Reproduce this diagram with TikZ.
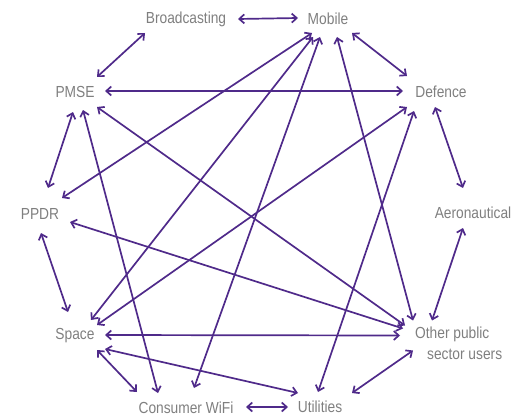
\documentclass[tikz,border=0pt]{standalone}
\usepackage{fontspec}
\setmainfont{Liberation Sans}[FakeStretch=0.86]
\usetikzlibrary{arrows.meta}
\definecolor{arrpurple}{HTML}{4F2A8A}
\definecolor{labgrey}{HTML}{7F7F7F}
\tikzset{
  lab/.style={text=labgrey, font=\fontsize{16}{21}\selectfont, inner sep=0pt},
  arr/.style={draw=arrpurple, line width=1.7pt, {Straight Barb[length=5pt,width=9pt]}-{Straight Barb[length=5pt,width=9pt]}}
}
\begin{document}
\begin{tikzpicture}[x=1pt,y=-1pt]
\useasboundingbox (0,0) rectangle (521,417);
\node[lab] (bro) at (186,19) {Broadcasting};
\node[lab] (mob) at (328,19) {Mobile};
\node[lab] (pmse) at (75,92) {PMSE};
\node[lab] (def) at (441,92) {Defence};
\node[lab] (ppdr) at (40,214) {PPDR};
\node[lab] (aero) at (473,213) {Aeronautical};
\node[lab] (space) at (75,336) {Space};
\node[lab, align=left, anchor=west] (other) at (415,343.5) {Other public\\\hspace*{12pt}sector users};
\node[lab] (wifi) at (186,408) {Consumer WiFi};
\node[lab] (util) at (320,407) {Utilities};
\coordinate (oc) at ([xshift=45pt]other.west);

\draw[arr] ([shift={(52,0)}]bro.center) -- ([shift={(-30,-1)}]mob.center);
\draw[arr] ([shift={(-41,14)}]bro.center) -- ([shift={(22,-15)}]pmse.center);
\draw[arr] ([shift={(24,14)}]mob.center) -- ([shift={(-34,-16)}]def.center);
\draw[arr] ([shift={(30,-1)}]pmse.center) -- ([shift={(-38,-1)}]def.center);
\draw[arr] ([shift={(-2,20)}]pmse.center) -- ([shift={(8,-26)}]ppdr.center);
\draw[arr] ([shift={(-6,15)}]def.center) -- ([shift={(-10,-25)}]aero.center);
\draw[arr] ([shift={(1,19)}]ppdr.center) -- ([shift={(-7,-24)}]space.center);
\draw[arr] ([shift={(-10,15)}]aero.center) -- ([shift={(-28,-23)}]oc);
\draw[arr] ([shift={(22,14)}]space.center) -- ([shift={(-49,-16)}]wifi.center);
\draw[arr] ([shift={(60,-1)}]wifi.center) -- ([shift={(-32,0)}]util.center);
\draw[arr] ([shift={(32,-14)}]util.center) -- ([shift={(-47,7)}]oc);
\draw[arr] ([shift={(30,-1)}]space.center) -- ([shift={(-60,-8)}]oc);
\draw[arr] ([shift={(30,13)}]space.center) -- ([shift={(-22,-14)}]util.center);
\draw[arr] ([shift={(-16,14)}]mob.center) -- ([shift={(22,-16)}]ppdr.center);
\draw[arr] ([shift={(-15,18)}]mob.center) -- ([shift={(16,-16)}]space.center);
\draw[arr] ([shift={(-8,18)}]mob.center) -- ([shift={(8,-20)}]wifi.center);
\draw[arr] ([shift={(9,18)}]mob.center) -- ([shift={(-47,-23)}]oc);
\draw[arr] ([shift={(22,15)}]pmse.center) -- ([shift={(-55,-18)}]oc);
\draw[arr] ([shift={(8,18)}]pmse.center) -- ([shift={(-28,-15)}]wifi.center);
\draw[arr] ([shift={(-34,15)}]def.center) -- ([shift={(22,-11)}]space.center);
\draw[arr] ([shift={(-27,19)}]def.center) -- ([shift={(-2,-15)}]util.center);
\draw[arr] ([shift={(30,8)}]ppdr.center) -- ([shift={(-57,-15)}]oc);
\end{tikzpicture}
\end{document}
